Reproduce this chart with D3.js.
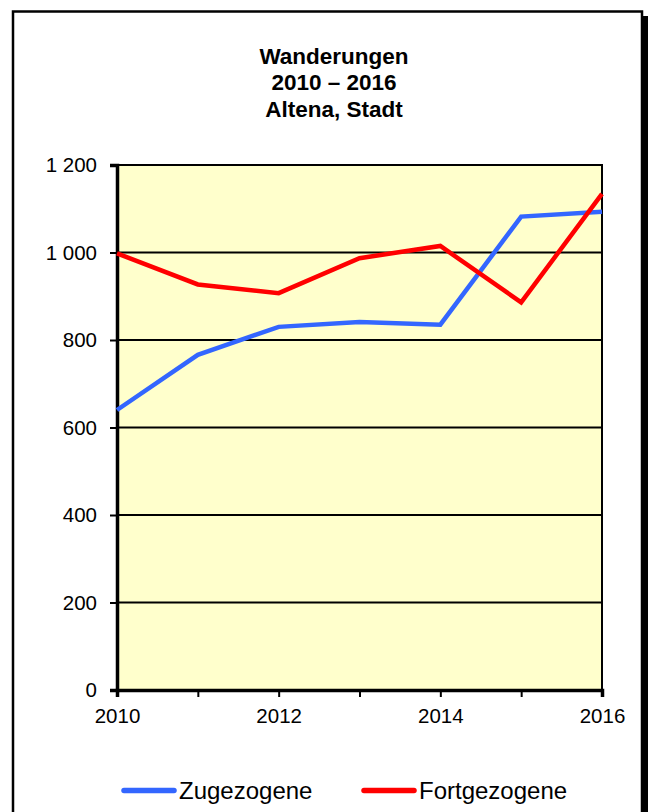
<!DOCTYPE html>
<html>
<head>
<meta charset="utf-8">
<script src="https://cdn.jsdelivr.net/npm/d3@7"></script>
<style>
  body { margin: 0; background: #fff; }
  svg { display: block; font-family: "Liberation Sans", Arial, sans-serif; }
</style>
</head>
<body>
<div id="chart"></div>
<script>
const years = [2010, 2011, 2012, 2013, 2014, 2015, 2016]
const zugezogene = [640, 766, 830, 841, 835, 1082, 1093]
const fortgezogene = [998, 927, 907, 987, 1015, 886, 1134]
const yTicks = [0, 200, 400, 600, 800, 1000, 1200]
const xTickLabels = [2010, 2012, 2014, 2016]
const titleLines = ['Wanderungen', '2010 – 2016', 'Altena, Stadt']
const seriesNames = ['Zugezogene', 'Fortgezogene']
const seriesColors = ['#3366ff', '#ff0000']

const W = 648, H = 812
const plot = { left: 117, top: 165, right: 602, bottom: 690 }
const fontFamily = '"Liberation Sans", Arial, sans-serif'

const svg = d3.select('#chart').append('svg')
    .attr('width', W)
    .attr('height', H)

// frame with shadow
svg.append('rect')
    .attr('x', 18).attr('y', 16)
    .attr('width', 630).attr('height', 820)
    .attr('fill', '#000')
svg.append('rect')
    .attr('x', 13).attr('y', 11.5)
    .attr('width', 629).attr('height', 820)
    .attr('fill', '#fff')
    .attr('stroke', '#000')
    .attr('stroke-width', 2.5)

const title = svg.append('text')
    .attr('text-anchor', 'middle')
    .attr('font-size', 22.5)
    .attr('font-weight', 'bold')
title.selectAll('tspan')
    .data(titleLines)
    .enter().append('tspan')
    .attr('x', 334)
    .attr('y', (d, i) => 63.5 + i * 26.5)
    .text(d => d)

const x = d3.scaleLinear().domain([2010, 2016]).range([plot.left, plot.right])
const y = d3.scaleLinear().domain([0, 1200]).range([plot.bottom, plot.top])

svg.append('rect')
    .attr('x', plot.left).attr('y', plot.top)
    .attr('width', plot.right - plot.left)
    .attr('height', plot.bottom - plot.top)
    .attr('fill', '#ffffcc')
    .attr('stroke', '#000')
    .attr('stroke-width', 2)

// gridlines
svg.append('g')
    .selectAll('line')
    .data(yTicks.filter(d => d > 0))
    .enter().append('line')
    .attr('x1', plot.left).attr('x2', plot.right)
    .attr('y1', d => y(d)).attr('y2', d => y(d))
    .attr('stroke', '#000')
    .attr('stroke-width', 2)

const fmt = d => d3.format(',')(d).replace(',', ' ')

const yAxis = svg.append('g')
    .attr('transform', 'translate(' + plot.left + ',0)')
    .call(d3.axisLeft(y).tickValues(yTicks).tickFormat(fmt).tickSize(7).tickPadding(13))
yAxis.select('.domain').attr('stroke-width', 3.5)
yAxis.selectAll('.tick line').attr('stroke-width', 2)
yAxis.selectAll('text').attr('font-size', 20.5).attr('fill', '#000')
    .attr('font-family', fontFamily)

const xAxis = svg.append('g')
    .attr('transform', 'translate(0,' + plot.bottom + ')')
    .call(d3.axisBottom(x).tickValues(years).tickFormat(d => xTickLabels.includes(d) ? d : '').tickSize(7).tickPadding(11))
xAxis.select('.domain').attr('stroke-width', 3.5)
xAxis.selectAll('.tick line').attr('stroke-width', 2)
xAxis.selectAll('text').attr('font-size', 20.5).attr('fill', '#000')
    .attr('font-family', fontFamily)

const line = d3.line()
    .x((d, i) => x(years[i]))
    .y(d => y(d))

const series = [zugezogene, fortgezogene]
svg.append('g')
    .selectAll('path')
    .data(series)
    .enter().append('path')
    .attr('d', d => line(d))
    .attr('fill', 'none')
    .attr('stroke', (d, i) => seriesColors[i])
    .attr('stroke-width', 4.5)
    .attr('stroke-linejoin', 'miter')

// legend
const legendX = [122, 362]
const legend = svg.append('g')
    .selectAll('g')
    .data(seriesNames)
    .enter().append('g')
    .attr('transform', (d, i) => 'translate(' + legendX[i] + ',790.5)')
legend.append('line')
    .attr('x1', 2).attr('x2', 52)
    .attr('y1', 0).attr('y2', 0)
    .attr('stroke', (d, i) => seriesColors[i])
    .attr('stroke-width', 5.5)
    .attr('stroke-linecap', 'round')
legend.append('text')
    .attr('x', 57)
    .attr('y', 8)
    .attr('font-size', 24)
    .text(d => d)
</script>
</body>
</html>
